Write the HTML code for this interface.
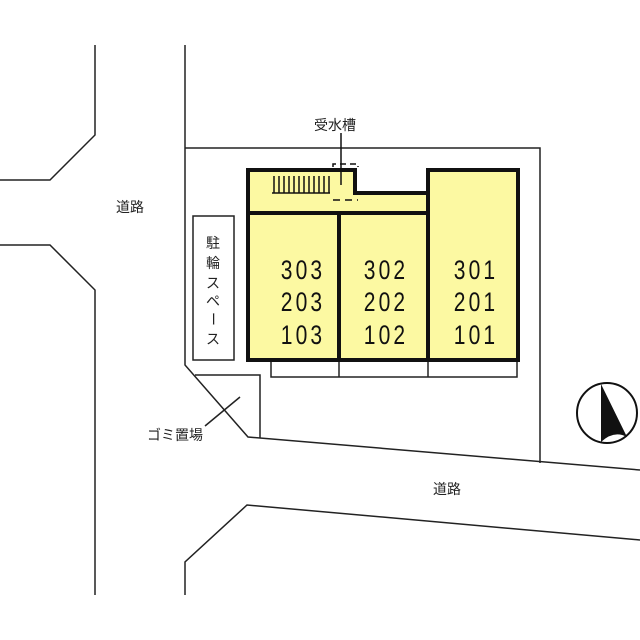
<!DOCTYPE html>
<html><head><meta charset="utf-8"><style>body{margin:0;background:#fff}svg{display:block}</style></head><body>
<svg width="640" height="640" viewBox="0 0 640 640" xmlns="http://www.w3.org/2000/svg" font-family="Liberation Sans, Noto Sans CJK JP, sans-serif">
<g fill="none" stroke="#222" stroke-width="1.5">
<polyline points="95,45 95,135 50,180 0,180"/>
<polyline points="0,245 50,245 95,290 95,595"/>
<polyline points="185,45 185,365 248,437 640,470"/>
<polyline points="185,595 185,562 247,505 640,540"/>
<polyline points="185,148 540,148 540,463"/>
<polyline points="195,375 260,375 260,438"/>
<line x1="240" y1="397" x2="205" y2="426"/>
<rect x="193" y="216" width="41" height="144"/>
<rect x="271" y="360" width="246" height="17"/>
<line x1="339" y1="360" x2="339" y2="377"/>
<line x1="428" y1="360" x2="428" y2="377"/>
</g>
<g fill="#fcf9a2" stroke="#111" stroke-width="4">
<polygon points="248,170 355,170 355,193 428,193 428,213 248,213"/>
<rect x="248" y="213" width="91" height="147"/>
<rect x="339" y="213" width="89" height="147"/>
<rect x="428" y="170" width="90" height="190"/>
</g>
<g stroke="#111" stroke-width="1.5">
<line x1="272" y1="193" x2="330" y2="193"/>
<line x1="274" y1="176" x2="274" y2="193"/><line x1="279" y1="176" x2="279" y2="193"/><line x1="284" y1="176" x2="284" y2="193"/><line x1="289" y1="176" x2="289" y2="193"/><line x1="294" y1="176" x2="294" y2="193"/><line x1="299" y1="176" x2="299" y2="193"/><line x1="304" y1="176" x2="304" y2="193"/><line x1="309" y1="176" x2="309" y2="193"/><line x1="314" y1="176" x2="314" y2="193"/><line x1="319" y1="176" x2="319" y2="193"/><line x1="324" y1="176" x2="324" y2="193"/><line x1="329" y1="176" x2="329" y2="193"/>
<line x1="341" y1="133" x2="341" y2="185"/>
<polyline points="333,167 333,164 358,164 358,167" fill="none" stroke-dasharray="6,4"/>
<line x1="333" y1="200" x2="358" y2="200" stroke-dasharray="7,5"/>
</g>
<g font-size="27" fill="#111" text-anchor="middle" letter-spacing="4">
<g transform="translate(303,0) scale(0.78,1)"><text x="0" y="279">303</text><text x="0" y="311">203</text><text x="0" y="344">103</text></g>
<g transform="translate(386,0) scale(0.78,1)"><text x="0" y="279">302</text><text x="0" y="311">202</text><text x="0" y="344">102</text></g>
<g transform="translate(476,0) scale(0.78,1)"><text x="0" y="279">301</text><text x="0" y="311">201</text><text x="0" y="344">101</text></g>
</g>
<g font-size="14" fill="#222" text-anchor="middle">
<text x="130" y="212">道路</text>
<text x="447" y="494">道路</text>
<text x="335" y="130">受水槽</text>
<text x="175" y="440">ゴミ置場</text>
<text x="213" y="248">駐</text><text x="213" y="268">輪</text><text x="213" y="288">ス</text><text x="213" y="306">ペ</text><text x="213" y="324" transform="rotate(90 213 319)">ー</text><text x="213" y="344">ス</text>
</g>
<circle cx="607" cy="413" r="30" fill="#fff" stroke="#111" stroke-width="2"/>
<path d="M601,384 L627,437 Q614,430 601,442 Z" fill="#111"/>
</svg>
</body></html>
